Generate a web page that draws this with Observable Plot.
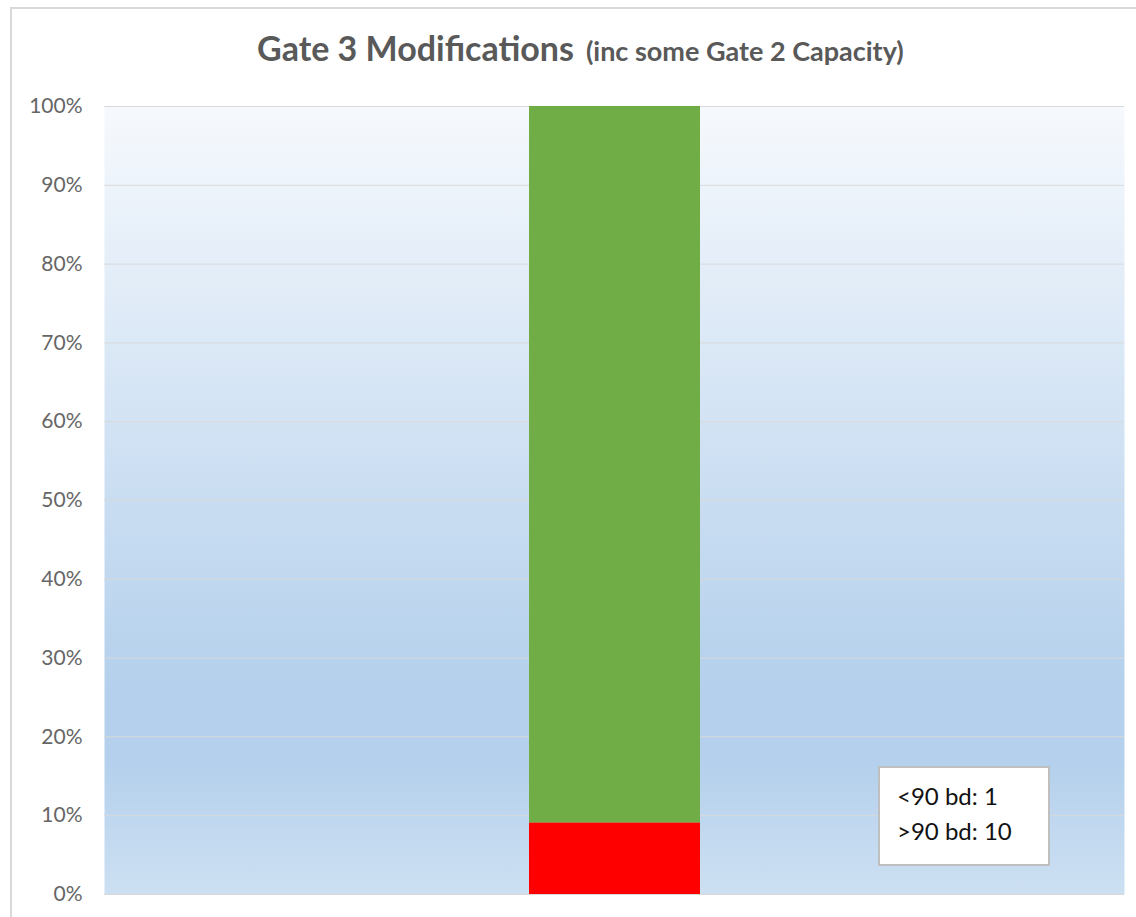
<!DOCTYPE html>
<html><head><meta charset="utf-8">
<script src="https://cdn.jsdelivr.net/npm/d3@7"></script>
<script src="https://cdn.jsdelivr.net/npm/@observablehq/plot@0.6"></script>
<style>
body{margin:0;background:#fff;}
#wrap{position:relative;width:1136px;height:917px;overflow:hidden;background:#fff;font-family:Lato,sans-serif;}
#border{position:absolute;left:10px;top:7px;width:1200px;height:1000px;border:2px solid #d9d9d9;box-sizing:border-box;}
#title{position:absolute;left:257px;top:28px;white-space:nowrap;color:#595959;font-weight:bold;line-height:1.2;}
#title .main{font-size:34px;}
#title .sub{font-size:27px;margin-left:8px;}
#chart{position:absolute;left:0;top:90px;}
#note{position:absolute;left:878px;top:766px;width:172px;height:100px;background:#fff;border:2px solid #bfbfbf;box-sizing:border-box;padding:10px 0 0 17px;font-size:24px;line-height:35px;color:#111;}
</style></head>
<body>
<div id="wrap">
  <div id="border"></div>
  <div id="title"></div>
  <div id="chart"></div>
  <div id="note"></div>
</div>
<script>
const categories = ["<90 bd", ">90 bd"];
const counts = [1, 10];
const colors = ["#ff0000", "#70ad47"];
const group = "Gate 3 Modifications";
const yTicks = [0, 0.1, 0.2, 0.3, 0.4, 0.5, 0.6, 0.7, 0.8, 0.9, 1];
const titleMain = "Gate 3 Modifications";
const titleSub = "(inc some Gate 2 Capacity)";

const data = categories.map((c, i) => ({cat: c, count: counts[i], group}));

document.getElementById("title").innerHTML =
  `<span class="main">${titleMain}</span> <span class="sub">${titleSub}</span>`;
document.getElementById("note").innerHTML =
  categories.map((c, i) => `<div>${c.replace("<","&lt;").replace(">","&gt;")}: ${counts[i]}</div>`).join("");

const plot = Plot.plot({
  width: 1136, height: 827,
  marginTop: 16, marginBottom: 23, marginLeft: 104, marginRight: 12,
  style: {fontFamily: "Lato", fontSize: "21px", color: "#666", background: "transparent", overflow: "visible"},
  x: {domain: [group], padding: 0.713, axis: null},
  y: {domain: [0, 1], label: null},
  color: {domain: categories, range: colors},
  marks: [
    Plot.frame({fill: "url(#bg)", stroke: "none"}),
    Plot.gridY(yTicks, {stroke: "#d9d9d9", strokeOpacity: 1, strokeWidth: 1}),
    Plot.axisY(yTicks, {tickFormat: d3.format(".0%"), tickSize: 0, tickPadding: 22, fontSize: 21, fill: "#666", label: null}),
    Plot.barY(data, Plot.stackY({x: "group", y: "count", fill: "cat", offset: "normalize"}))
  ]
});
const svg = plot.tagName.toLowerCase() === "svg" ? plot : plot.querySelector("svg");
const defs = d3.select(svg).insert("defs", ":first-child");
const lg = defs.append("linearGradient").attr("id", "bg").attr("x1", 0).attr("y1", 0).attr("x2", 0).attr("y2", 1);
[[0, "#f6f9fd"], [0.74, "#b4d0ec"], [0.83, "#b4d0ec"], [1, "#cde0f2"]].forEach(([o, c]) =>
  lg.append("stop").attr("offset", o).attr("stop-color", c));
document.getElementById("chart").appendChild(plot);
</script>
</body></html>
